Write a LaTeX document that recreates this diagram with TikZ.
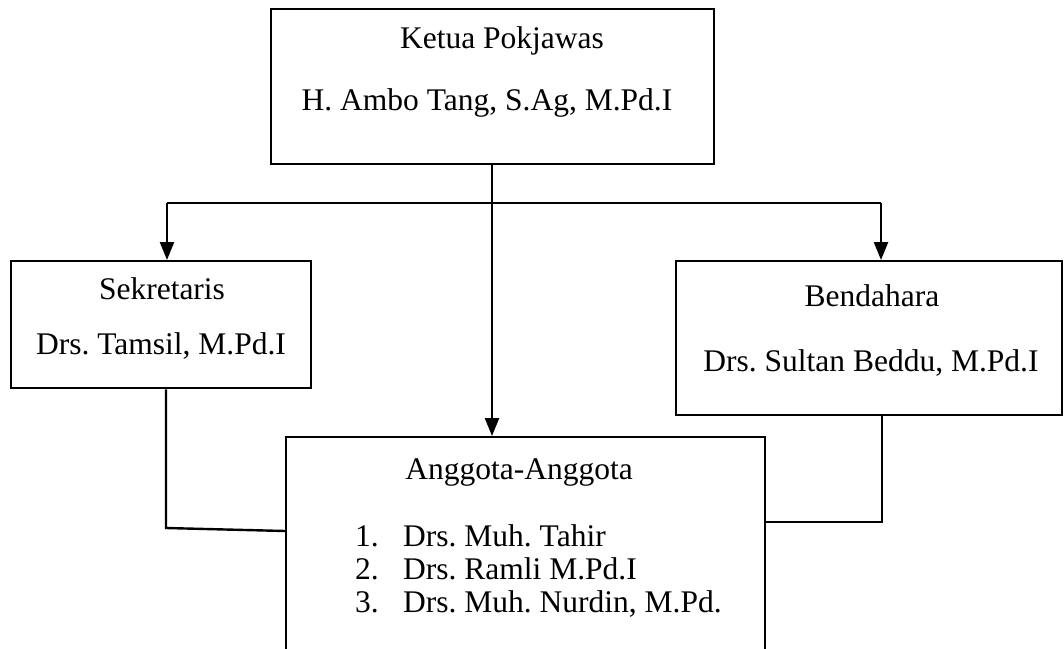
\documentclass[tikz,border=0pt]{standalone}
\usepackage{fontspec}
\setmainfont{Liberation Serif}
\usetikzlibrary{arrows.meta}
\begin{document}
\frenchspacing
\begin{tikzpicture}[x=1pt,y=-1pt,
  box/.style={draw,line width=2.4pt,inner sep=0pt,anchor=north west},
  conn/.style={line width=2.4pt},
  arr/.style={conn,-{Triangle[width=14pt,length=18pt]}},
  txt/.style={inner sep=0pt,anchor=base,font=\fontsize{31.5}{36}\selectfont}]
\clip (0,0) rectangle (1064,648);
\fill[white] (0,0) rectangle (1064,648);
% boxes
\node[box,minimum width=443pt,minimum height=155pt] (ketua) at (270,8) {};
\node[box,minimum width=300pt,minimum height=127pt] (sek) at (10,260) {};
\node[box,minimum width=386pt,minimum height=154pt] (bend) at (675,260) {};
\node[box,minimum width=479pt,minimum height=280pt] (angg) at (285,436) {};
% texts
\node[txt] (t1) at (502,48) {Ketua Pokjawas};
\node[txt] (t2) at (487,110) {H. Ambo Tang, S.Ag, M.Pd.I};
\node[txt] (t3) at (162,299) {Sekretaris};
\node[txt] (t4) at (161,354) {Drs. Tamsil, M.Pd.I};
\node[txt] (t5) at (872,306) {Bendahara};
\node[txt] (t6) at (871,371) {Drs. Sultan Beddu, M.Pd.I};
\node[txt] (t7) at (519,479) {Anggota-Anggota};
\node[txt,anchor=base west] (n1) at (355,546) {1.};
\node[txt,anchor=base west] (l1) at (403,546) {Drs. Muh. Tahir};
\node[txt,anchor=base west] (n2) at (355,579) {2.};
\node[txt,anchor=base west] (l2) at (403,579) {Drs. Ramli M.Pd.I};
\node[txt,anchor=base west] (n3) at (355,612) {3.};
\node[txt,anchor=base west] (l3) at (403,612) {Drs. Muh. Nurdin, M.Pd.};
% connectors
\coordinate (hl) at (167,203);
\coordinate (hr) at (881,203);
\draw[conn] (hl) -- (hr);
\draw[arr] (hl) -- (hl |- sek.north);
\draw[arr] (hr) -- (hr |- bend.north);
\draw[arr] (ketua.south -| 492,0) -- (angg.north -| 492,0);
\coordinate (lb) at (166,528);
\draw[conn] (sek.south -| lb) -- (lb) -- (angg.west |- 0,531);
\coordinate (rb) at (882,522);
\draw[conn] (bend.south -| rb) -- (rb) -- (angg.east |- rb);
\end{tikzpicture}
\end{document}
